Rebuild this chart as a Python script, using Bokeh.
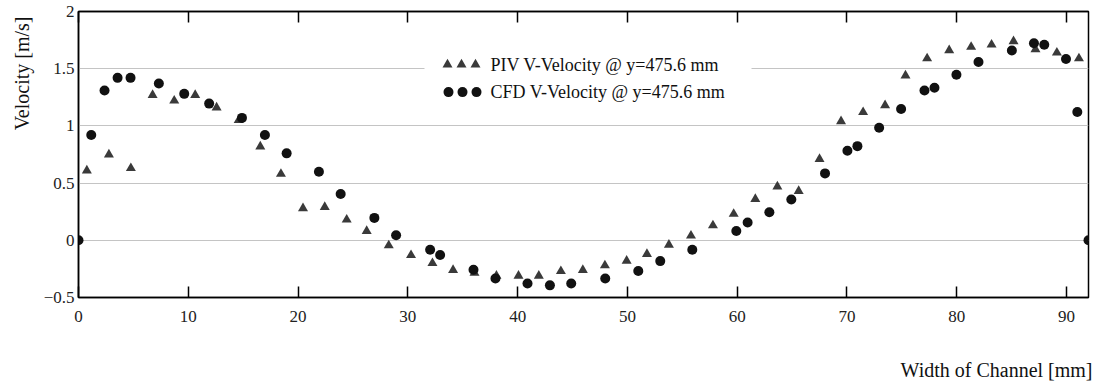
import math
from bokeh.plotting import figure
from bokeh.models import (ColumnDataSource, LinearAxis, FixedTicker, Label,
                          Range1d, BoxAnnotation, CustomLabelingPolicy, Title)
from bokeh.embed import file_html
from bokeh.resources import INLINE

# ---- data ----
piv_x = [0.76, 2.77, 4.77, 6.75, 8.72, 10.63, 12.58, 14.59, 16.56, 18.44,
         20.45, 22.43, 24.43, 26.25, 28.26, 30.29, 32.24, 34.12, 36.07, 38.07,
         40.08, 41.93, 43.94, 45.94, 47.95, 49.93, 51.78, 53.78, 55.79, 57.79,
         59.68, 61.65, 63.66, 65.6, 67.5, 69.46, 71.47, 73.47, 75.33, 77.3,
         79.31, 81.31, 83.17, 85.17, 87.17, 89.12, 91.13]
piv_y = [0.61, 0.75, 0.63, 1.27, 1.22, 1.27, 1.16, 1.05, 0.82, 0.58,
         0.28, 0.29, 0.18, 0.08, -0.045, -0.13, -0.20, -0.26, -0.285, -0.31,
         -0.31, -0.31, -0.27, -0.26, -0.22, -0.18, -0.12, -0.04, 0.04, 0.13,
         0.23, 0.36, 0.47, 0.43, 0.71, 1.04, 1.12, 1.18, 1.44, 1.59,
         1.66, 1.69, 1.71, 1.74, 1.67, 1.64, 1.59]

cfd_x = [0.0, 1.16, 2.37, 3.56, 4.74, 7.32, 9.63, 11.9, 14.89, 16.98,
         18.96, 21.9, 23.88, 26.95, 28.93, 32.03, 32.94, 35.98, 37.98, 40.9,
         42.94, 44.88, 47.98, 50.99, 52.99, 55.91, 59.92, 60.95, 62.93, 64.93,
         68.0, 70.04, 70.95, 72.93, 74.93, 77.06, 77.97, 79.97, 81.98, 85.02,
         87.03, 87.97, 89.95, 90.98, 92.0]
cfd_y = [0.0, 0.92, 1.31, 1.42, 1.42, 1.37, 1.28, 1.195, 1.07, 0.92,
         0.76, 0.60, 0.405, 0.196, 0.044, -0.082, -0.128, -0.257, -0.334, -0.377,
         -0.394, -0.377, -0.334, -0.268, -0.182, -0.082, 0.082, 0.156, 0.245, 0.356,
         0.585, 0.783, 0.823, 0.984, 1.147, 1.31, 1.333, 1.447, 1.559, 1.659,
         1.722, 1.71, 1.585, 1.121, 0.0]

x_ticks = [0, 10, 20, 30, 40, 50, 60, 70, 80, 90]
y_ticks = [-0.5, 0, 0.5, 1, 1.5, 2]
y_tick_labels = ["\u22120.5", "0", "0.5", "1", "1.5", "2"]
grid_ticks = [0, 0.5, 1, 1.5]

piv_label = "PIV V-Velocity @ y=475.6 mm"
cfd_label = "CFD V-Velocity @ y=475.6 mm"
x_title = "Width of Channel [mm]"
y_title = "Velocity [m/s]"

FONT = "Liberation Serif"
PIV_COLOR = "#3a3a3a"
CFD_COLOR = "#111111"

W, H = 1096, 385
BL, BR, BT, BB = 78, 8, 10, 84
FW, FH = W - BL - BR, H - BT - BB   # frame size in pixels

p = figure(width=W, height=H, x_range=(0, 92), y_range=(-0.5, 2),
           output_backend="svg", toolbar_location=None,
           min_border_left=BL, min_border_right=BR, min_border_top=BT,
           min_border_bottom=BB)
# pixel ranges for the legend layout
p.extra_x_ranges = {"px": Range1d(0, FW)}
p.extra_y_ranges = {"py": Range1d(0, FH)}

p.background_fill_color = "white"
p.border_fill_color = "white"
p.outline_line_color = "black"
p.outline_line_width = 1.5

p.xgrid.visible = False
p.ygrid.ticker = FixedTicker(ticks=grid_ticks)
p.ygrid.grid_line_color = "#c4c4c4"
p.ygrid.grid_line_width = 1

# bottom axis
xa = p.xaxis[0]
xa.ticker = FixedTicker(ticks=x_ticks)
xa.major_tick_in = 11
xa.major_tick_out = 0
xa.minor_tick_in = 0
xa.minor_tick_out = 0
xa.axis_line_width = 1.5
xa.major_tick_line_width = 1.5
xa.major_label_standoff = 13
xa.major_label_text_font = FONT
xa.major_label_text_font_size = "17px"
xa.major_label_text_color = "#222222"

no_labels = CustomLabelingPolicy(code="""
    const n = indices.size
    for (let i = 0; i < n; i++) indices.unset(i)
    return indices
""")

# top axis (ticks only, no labels)
top = LinearAxis(ticker=FixedTicker(ticks=x_ticks), major_label_policy=no_labels)
top.major_tick_in = 11
top.major_tick_out = 0
top.minor_tick_in = 0
top.minor_tick_out = 0
top.axis_line_width = 1.5
top.major_tick_line_width = 1.5
top.major_label_standoff = 0
p.add_layout(top, "above")

# invisible spacer below the x axis (pushes the x title down)
spacer = LinearAxis(ticker=FixedTicker(ticks=x_ticks), major_label_policy=no_labels)
spacer.major_tick_in = 0
spacer.major_tick_out = 23
spacer.minor_tick_in = 0
spacer.minor_tick_out = 0
spacer.major_tick_line_color = None
spacer.axis_line_color = None
spacer.major_label_standoff = 0
spacer.major_label_text_font_size = "1px"
p.add_layout(spacer, "below")

# left axis
ya = p.yaxis[0]
ya.ticker = FixedTicker(ticks=y_ticks)
ya.major_label_overrides = {t: s for t, s in zip(y_ticks, y_tick_labels)}
ya.major_tick_in = 0
ya.major_tick_out = 0
ya.minor_tick_in = 0
ya.minor_tick_out = 0
ya.axis_line_width = 1.5
ya.major_label_standoff = 4
ya.major_label_text_font = FONT
ya.major_label_text_font_size = "17px"
ya.major_label_text_color = "#222222"

# ---- axis titles, aligned to the end of each axis ----
t_x = Title(text=x_title, align="right", offset=-4, text_font=FONT,
            text_font_size="20px", text_font_style="normal",
            text_color="#111111")
t_y = Title(text=y_title, align="right", offset=5, text_font=FONT,
            text_font_size="20px", text_font_style="normal",
            text_color="#111111")
try:
    t_x.standoff = 10
    t_y.standoff = 16
except Exception:
    pass
p.add_layout(t_x, "below")
p.add_layout(t_y, "left")

src_piv = ColumnDataSource(dict(x=piv_x, y=piv_y))
src_cfd = ColumnDataSource(dict(x=cfd_x, y=cfd_y))

p.scatter("x", "y", source=src_piv, marker="triangle", size=10,
          fill_color=PIV_COLOR, line_color=None)
p.scatter("x", "y", source=src_cfd, marker="circle", size=10,
          fill_color=CFD_COLOR, line_color=None)

# ---- legend (drawn in pixel space of the frame) ----
p.add_layout(BoxAnnotation(left=346, right=673, bottom=221, top=251,
                           x_range_name="px", y_range_name="py",
                           fill_color="white", fill_alpha=1.0,
                           line_color=None, level="underlay"))
key_src_piv = ColumnDataSource(dict(x=[369, 383, 397], y=[237, 237, 237]))
key_src_cfd = ColumnDataSource(dict(x=[370, 384, 398], y=[209, 209, 209]))
p.scatter("x", "y", source=key_src_piv, marker="triangle", size=10,
          fill_color=PIV_COLOR, line_color=None,
          x_range_name="px", y_range_name="py")
p.scatter("x", "y", source=key_src_cfd, marker="circle", size=10,
          fill_color=CFD_COLOR, line_color=None,
          x_range_name="px", y_range_name="py")
for txt, yy in ((piv_label, 237), (cfd_label, 209)):
    p.add_layout(Label(x=412, y=yy, x_range_name="px", y_range_name="py",
                       text=txt, text_align="left", text_baseline="middle",
                       text_font=FONT, text_font_size="18px",
                       text_color="#111111"))

open("out.html", "w").write(file_html(p, INLINE))
